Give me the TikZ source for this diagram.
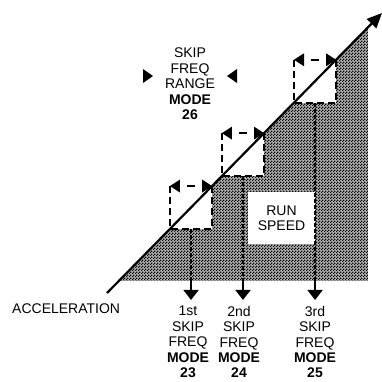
\documentclass[tikz,border=0pt]{standalone}
\usepackage{fontspec}
\setmainfont{Liberation Sans}
\usepackage{tikz}
\usetikzlibrary{arrows.meta}
\usetikzlibrary{calc}
\usetikzlibrary{patterns}

\pgfdeclarepatternformonly{speeddots}{\pgfpointorigin}{\pgfqpoint{3pt}{3pt}}{\pgfqpoint{3pt}{3pt}}{
  \pgfpathrectangle{\pgfpointorigin}{\pgfqpoint{1.5pt}{1.5pt}}
  \pgfpathrectangle{\pgfqpoint{1.5pt}{1.5pt}}{\pgfqpoint{1.5pt}{1.5pt}}
  \pgfusepath{fill}
}

\begin{document}
\begin{tikzpicture}[x=1pt,y=-1pt,
  every node/.style={font=\fontsize{14}{15.4}\selectfont,align=center,inner sep=0pt},
  speedline/.style={line width=2.2pt,-{Triangle[length=15pt,width=13pt]}},
  skipbox/.style={line width=1.8pt,dash pattern=on 7pt off 4pt},
  skipdrop/.style={line width=2pt,dash pattern=on 4pt off 2pt},
  skiparrow/.style={line width=1.8pt,-{Triangle[length=10pt,width=15pt]}}]
\useasboundingbox (0,0) rectangle (382,381);
\coordinate (acc start) at (107,293);
\coordinate (acc end) at (382,13);
% grey area under the ramp
\coordinate (sh0) at ($(acc start)!0.043!(acc end)$);
\coordinate (sh1) at ($(acc start)!0.949!(acc end)$);
\fill[black!30] (sh0) -- (sh1) -- (sh1 |- sh0) -- cycle;
\fill[pattern=speeddots] (sh0) -- (sh1) -- (sh1 |- sh0) -- cycle;
\foreach \i/\s/\e in {1/0.229/0.382,2/0.418/0.571,3/0.680/0.833}{
  \coordinate (lo\i) at ($(acc start)!\s!(acc end)$);
  \coordinate (hi\i) at ($(acc start)!\e!(acc end)$);
  \coordinate (drop\i) at ($(lo\i)!0.5!(lo\i -| hi\i)$);
  \coordinate (foot\i) at (drop\i |- sh0);
  \coordinate (tip\i) at ($(foot\i)+(0,19)$);
  \fill[white] (lo\i) rectangle (hi\i);
}
\node[fill=white,minimum width=67pt,minimum height=52pt] (run) at (281.5,218) {RUN\\SPEED};
\foreach \i in {1,2,3}{
  \draw[skipdrop] (drop\i) -- (foot\i);
  \draw[skiparrow] (foot\i) -- (tip\i);
  \draw[skipbox] (lo\i |- hi\i) -- (lo\i) -- (lo\i -| hi\i) -- (hi\i);
}
\draw[speedline] (acc start) -- (acc end);
% range marks on top of each box
\foreach \i in {1,2,3}{
  \fill (lo\i |- hi\i) -- ++(10,-6.5) -- ++(0,13) -- cycle;
  \fill (hi\i) -- ++(-10,-6.5) -- ++(0,13) -- cycle;
  \draw[line width=1.8pt] ($(lo\i |- hi\i)!0.5!(hi\i)+(-4,0)$) -- ++(8,0);
}
\node[anchor=north] (range) at (190,48) {SKIP\\FREQ\\RANGE\\\textbf{MODE}\\\textbf{26}};
\fill (143,69) -- (153,76) -- (143,83) -- cycle;
\fill (237,69) -- (227,76) -- (237,83) -- cycle;
\node[anchor=base west] (accel) at (12,313) {ACCELERATION};
\node[anchor=north] (mode23) at (188,306) {1st\\SKIP\\FREQ\\\textbf{MODE}\\\textbf{23}};
\node[anchor=north] (mode24) at (239,306) {2nd\\SKIP\\FREQ\\\textbf{MODE}\\\textbf{24}};
\node[anchor=north] (mode25) at (315,306) {3rd\\SKIP\\FREQ\\\textbf{MODE}\\\textbf{25}};
\end{tikzpicture}
\end{document}
